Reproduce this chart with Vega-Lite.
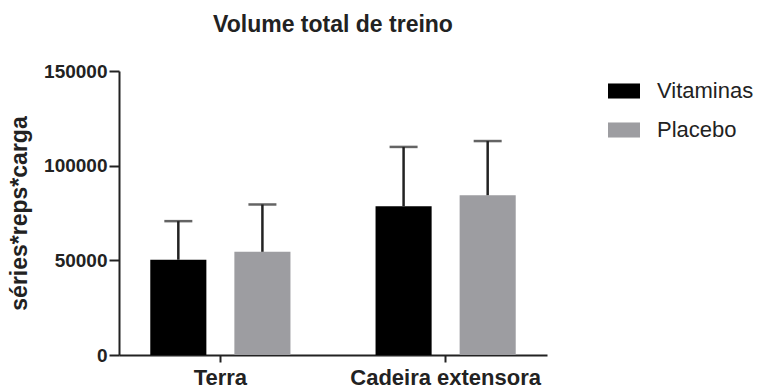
{
  "$schema": "https://vega.github.io/schema/vega-lite/v6.json",
  "autosize": {"type": "none"},
  "padding": {"left": 119, "top": 71, "right": 211, "bottom": 33},
  "width": 428,
  "height": 284,
  "background": "white",
  "config": {
    "font": "Liberation Sans",
    "view": {"stroke": null}
  },
  "title": {
    "text": "Volume total de treino",
    "fontSize": 23,
    "fontWeight": "bold",
    "color": "#222222",
    "anchor": "middle",
    "frame": "group",
    "baseline": "bottom",
    "offset": 32,
    "dy": 30
  },
  "data": {
    "values": [
      {"exercicio": "Terra", "grupo": "Vitaminas", "media": 50300, "superior": 70700},
      {"exercicio": "Terra", "grupo": "Placebo", "media": 54500, "superior": 79500},
      {"exercicio": "Cadeira extensora", "grupo": "Vitaminas", "media": 78600, "superior": 109900},
      {"exercicio": "Cadeira extensora", "grupo": "Placebo", "media": 84400, "superior": 113000}
    ]
  },
  "encoding": {
    "x": {
      "field": "exercicio",
      "type": "nominal",
      "sort": ["Terra", "Cadeira extensora"],
      "scale": {"paddingInner": 0.1, "paddingOuter": 0},
      "axis": {
        "title": null,
        "labelAngle": 0,
        "labelFontSize": 22,
        "labelFontWeight": "bold",
        "labelColor": "#222222",
        "labelPadding": 5,
        "labelLimit": 400,
        "tickSize": 7,
        "tickWidth": 2,
        "tickColor": "#222222",
        "domainWidth": 2,
        "domainColor": "#222222"
      }
    },
    "xOffset": {
      "field": "grupo",
      "type": "nominal",
      "sort": ["Vitaminas", "Placebo"],
      "scale": {"paddingInner": 0.333, "paddingOuter": 0.372}
    }
  },
  "layer": [
    {
      "mark": {"type": "bar"},
      "encoding": {
        "y": {
          "field": "media",
          "type": "quantitative",
          "scale": {"domain": [0, 150000], "nice": false},
          "axis": {
            "title": "séries*reps*carga",
            "titleFontSize": 23,
            "titleFontWeight": "bold",
            "titleColor": "#222222",
            "titlePadding": 12,
            "values": [0, 50000, 100000, 150000],
            "format": "d",
            "grid": false,
            "labelFontSize": 19,
            "labelFontWeight": "bold",
            "labelColor": "#222222",
            "labelPadding": 2,
            "tickSize": 10,
            "tickWidth": 2,
            "tickColor": "#222222",
            "domainWidth": 2,
            "domainColor": "#222222"
          }
        },
        "color": {
          "field": "grupo",
          "type": "nominal",
          "sort": ["Vitaminas", "Placebo"],
          "scale": {"domain": ["Vitaminas", "Placebo"], "range": ["#000000", "#9d9da1"]},
          "legend": {
            "title": null,
            "orient": "none",
            "legendX": 489,
            "legendY": 4,
            "padding": 0,
            "symbolType": "M-1,-0.47H1V0.47H-1Z",
            "symbolSize": 1024,
            "symbolStrokeWidth": 0,
            "labelFontSize": 22,
            "labelColor": "#222222",
            "labelOffset": 17,
            "rowPadding": 12
          }
        }
      }
    },
    {
      "mark": {"type": "rule", "color": "#222222", "strokeWidth": 2.5},
      "encoding": {
        "y": {"field": "media", "type": "quantitative"},
        "y2": {"field": "superior"}
      }
    },
    {
      "mark": {"type": "tick", "color": "#222222", "thickness": 2.5, "size": 28, "orient": "horizontal"},
      "encoding": {
        "y": {"field": "superior", "type": "quantitative"}
      }
    }
  ]
}
